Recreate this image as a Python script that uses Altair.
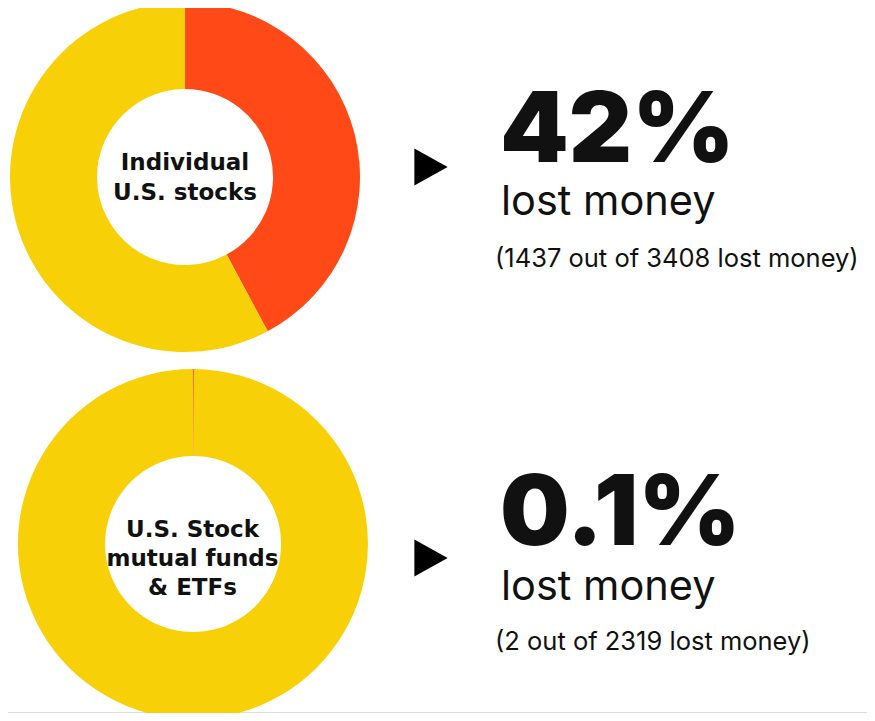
import altair as alt
import pandas as pd

# ---- data ----
groups = ["Individual U.S. stocks", "U.S. Stock mutual funds & ETFs"]
center_labels = ["Individual\nU.S. stocks", "U.S. Stock\nmutual funds\n& ETFs"]
lost = [1437, 2]
totals = [3408, 2319]
status = ["Lost money", "Did not lose money"]
pct_labels = ["42%", "0.1%"]
sub_labels = ["lost money", "lost money"]
detail_labels = ["(1437 out of 3408 lost money)", "(2 out of 2319 lost money)"]
colors = ["#FF4A17", "#F8D008"]

# ---- layout (pixels in chart space) ----
W, H = 859, 705
centers = [(177, 169), (185, 536)]
label_centers = [(177, 169.5), (184.5, 551)]
label_lh = [30, 29]
arrow_y = [159, 550]
text_x = 492
pct_y = [154, 537]
sub_y = [207, 592]
det_y = [259, 642]

BIG_FONT = "Inter"
FONT = "Inter"
LABEL_FONT = "DejaVu Sans"

layers = []

# bottom border line
layers.append(
    alt.Chart(pd.DataFrame({"a": [0]})).mark_rule(color="#dddddd", strokeWidth=1).encode(
        x=alt.value(-8), x2=alt.value(W + 8), y=alt.value(H - 0.5)
    )
)

for i in range(2):
    df = pd.DataFrame({
        "group": [groups[i]] * 2,
        "status": status,
        "count": [lost[i], totals[i] - lost[i]],
        "order": [0, 1],
    })
    cx, cy = centers[i]
    arc = alt.Chart(df).mark_arc(innerRadius=88, outerRadius=175).encode(
        theta=alt.Theta("count:Q", stack="normalize"),
        order=alt.Order("order:Q"),
        color=alt.Color("status:N", scale=alt.Scale(domain=status, range=colors), legend=None),
        x=alt.value(cx),
        y=alt.value(cy),
    )
    layers.append(arc)

    lines = center_labels[i].split("\n")
    lh = label_lh[i]
    lx, ly = label_centers[i]
    clab = alt.Chart(pd.DataFrame({"t": [center_labels[i]]})).mark_text(
        font=LABEL_FONT, fontSize=23, fontWeight="bold", color="#111111",
        align="center", baseline="middle", lineBreak="\n", lineHeight=lh,
    ).encode(text="t:N", x=alt.value(lx), y=alt.value(ly - (len(lines) - 1) * lh / 2))
    layers.append(clab)

    arrow = alt.Chart(pd.DataFrame({"a": [0]})).mark_point(
        shape="M-0.9,-1L0.9,0L-0.9,1Z", filled=True, color="#000000", opacity=1, size=1369, strokeWidth=0
    ).encode(x=alt.value(423), y=alt.value(arrow_y[i]))
    layers.append(arrow)

    pct = alt.Chart(pd.DataFrame({"t": [pct_labels[i]]})).mark_text(
        font=BIG_FONT, fontSize=98, fontWeight=900, color="#111111", align="left", baseline="alphabetic"
    ).encode(text="t:N", x=alt.value(text_x), y=alt.value(pct_y[i]))
    sub = alt.Chart(pd.DataFrame({"t": [sub_labels[i]]})).mark_text(
        font=FONT, fontSize=41.5, fontWeight="normal", color="#111111", align="left", baseline="alphabetic"
    ).encode(text="t:N", x=alt.value(text_x + 1), y=alt.value(sub_y[i]))
    det = alt.Chart(pd.DataFrame({"t": [detail_labels[i]]})).mark_text(
        font=FONT, fontSize=25.5, fontWeight="normal", color="#111111", align="left", baseline="alphabetic"
    ).encode(text="t:N", x=alt.value(text_x - 5), y=alt.value(det_y[i]))
    layers += [pct, sub, det]

chart = alt.layer(*layers).resolve_scale(theta="independent").properties(
    width=W, height=H, padding=0, autosize=alt.AutoSizeParams(type="none")
).configure_view(stroke=None)

chart.save("out.html", embed_options={"renderer": "svg", "actions": False})
